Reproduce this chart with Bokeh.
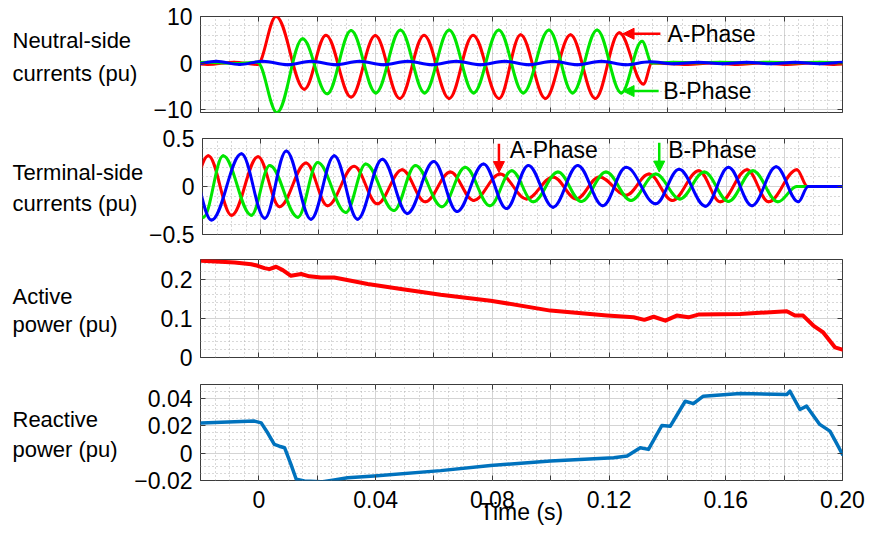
import numpy as np
from bokeh.plotting import figure
from bokeh.layouts import column, row
from bokeh.models import Range1d, FixedTicker, Label, Arrow, NormalHead, LinearAxis
from bokeh.embed import file_html
from bokeh.resources import INLINE

FONT = "Liberation Sans"
FS = "23px"      # tick labels / notes
FT = "22px"      # panel titles
RED = "#ff0000"
GREEN = "#00e600"
BLUE = "#0000ff"
QBLUE = "#0072bd"

# ---------------- data (extrema of the waveforms) ----------------
# Neutral-side currents (pu)
na_t = [-0.027, -0.0175, -0.0085, -0.0005, 0.0059, 0.0156, 0.0230, 0.0316, 0.0399, 0.0483,
        0.0566, 0.0652, 0.0734, 0.0823, 0.0897, 0.0982, 0.1068, 0.1153, 0.1235, 0.1318,
        0.1347, 0.147, 0.155, 0.164, 0.172, 0.181, 0.189, 0.197, 0.205]
na_v = [0.2, -0.3, 0.2, -0.3, 10.0, -5.6, 6.0, -7.3, 5.9, -7.6,
        6.0, -7.6, 6.0, -7.6, 6.1, -7.6, 6.1, -7.6, 6.5, -4.5,
        0.0, -0.3, 0.0, -0.3, 0.0, -0.3, 0.0, -0.3, 0.0]

nb_t = [-0.027, -0.0175, -0.0085, -0.0005, 0.0062, 0.0150, 0.0234, 0.0316, 0.0401, 0.0485,
        0.0568, 0.0652, 0.0736, 0.0822, 0.0906, 0.0994, 0.1075, 0.1159, 0.1242, 0.1313,
        0.1347, 0.142, 0.150, 0.158, 0.167, 0.175, 0.183, 0.192, 0.200, 0.208]
nb_v = [-0.1, 0.2, -0.1, 0.2, -10.6, 5.2, -6.6, 7.0, -6.4, 7.1,
        -6.4, 7.1, -6.4, 7.1, -6.4, 7.1, -6.4, 7.1, -6.4, 4.7,
        0.0, 0.2, 0.05, 0.2, 0.05, 0.2, 0.05, 0.2, 0.05, 0.2]

nc_t = [-0.0229, -0.0146, -0.0066, 0.0014, 0.0099, 0.0179, 0.0264, 0.0344, 0.0427, 0.0510,
        0.0593, 0.0676, 0.0759, 0.0842, 0.0925, 0.1008, 0.1091, 0.1174, 0.1257, 0.1340,
        0.1423, 0.1506, 0.1589, 0.1672, 0.1755, 0.1838, 0.1921, 0.2004, 0.2087]
nc_v = [-0.3, 0.4, -0.3, 0.4, -0.35, 0.4, -0.35, 0.4, -0.35, 0.4,
        -0.35, 0.4, -0.35, 0.4, -0.35, 0.4, -0.35, 0.4, -0.35, 0.3,
        -0.15, 0.2, -0.15, 0.2, -0.15, 0.2, -0.15, 0.2, -0.15]

# Terminal-side currents (pu)
ta_t = [-0.0265, -0.018, -0.0100, -0.0009, 0.0065, 0.0156, 0.0230, 0.0321, 0.0401, 0.0486,
        0.0566, 0.0652, 0.0732, 0.0823, 0.0914, 0.1005, 0.1085, 0.1164, 0.1256, 0.1335,
        0.1415, 0.1506, 0.158, 0.1672, 0.1746, 0.1843, 0.188, 0.205]
ta_v = [-0.30, 0.32, -0.30, 0.31, -0.21, 0.245, -0.20, 0.21, -0.18, 0.175,
        -0.16, 0.15, -0.145, 0.13, -0.13, 0.10, -0.13, 0.10, -0.09, 0.13,
        -0.145, 0.165, -0.16, 0.175, -0.16, 0.175, 0.0, 0.0]

tb_t = [-0.028, -0.0197, -0.0129, -0.0032, 0.0031, 0.0128, 0.0196, 0.0293, 0.0361, 0.0458,
        0.0532, 0.0623, 0.0703, 0.0788, 0.0863, 0.0937, 0.1022, 0.1102, 0.1187, 0.1273,
        0.1358, 0.1441, 0.1525, 0.1608, 0.1692, 0.1778, 0.1843, 0.205]
tb_v = [0.32, -0.32, 0.32, -0.30, 0.22, -0.32, 0.25, -0.27, 0.235, -0.25,
        0.22, -0.21, 0.20, -0.20, 0.165, -0.16, 0.15, -0.155, 0.15, -0.145,
        0.13, -0.13, 0.15, -0.155, 0.165, -0.16, 0.0, 0.0]

tc_t = [-0.0252, -0.0169, -0.0066, 0.0014, 0.0088, 0.0173, 0.0253, 0.0333, 0.0418, 0.0504,
        0.0595, 0.0675, 0.0766, 0.0845, 0.0920, 0.1005, 0.1090, 0.1176, 0.1256, 0.1358,
        0.1438, 0.1529, 0.1608, 0.1689, 0.1772, 0.1848, 0.1882, 0.205]
tc_v = [0.34, -0.35, 0.34, -0.33, 0.37, -0.34, 0.32, -0.34, 0.285, -0.28,
        0.26, -0.26, 0.235, -0.23, 0.22, -0.215, 0.22, -0.20, 0.20, -0.18,
        0.18, -0.205, 0.20, -0.20, 0.205, -0.16, 0.0, 0.0]

# Active power (pu)
p_t = [-0.0197, -0.0083, -0.0026, -0.0004, 0.0019, 0.0036, 0.0059, 0.0082, 0.0110, 0.0145,
       0.0173, 0.0213, 0.0258, 0.0316, 0.0373, 0.0487, 0.0623, 0.0794, 0.0999, 0.1193,
       0.1284, 0.1321, 0.1353, 0.1393, 0.1432, 0.1472, 0.1506, 0.1649, 0.1809, 0.1837,
       0.1865, 0.1900, 0.1934, 0.1974, 0.2000]
p_v = [0.247, 0.2425, 0.238, 0.234, 0.228, 0.2255, 0.2315, 0.223, 0.2085, 0.213,
       0.207, 0.204, 0.204, 0.196, 0.1875, 0.175, 0.160, 0.145, 0.1196, 0.107,
       0.1025, 0.096, 0.104, 0.094, 0.107, 0.1025, 0.1094, 0.111, 0.118, 0.107,
       0.107, 0.0815, 0.064, 0.026, 0.020]

# Reactive power (pu)
q_t = [-0.0197, -0.0015, 0.0008, 0.0030, 0.0053, 0.0070, 0.0088, 0.0110, 0.0128, 0.0156,
       0.0213, 0.0258, 0.0304, 0.0395, 0.0623, 0.0794, 0.0999, 0.1216, 0.1262, 0.1307,
       0.1335, 0.1381, 0.1410, 0.1461, 0.1489, 0.1523, 0.1649, 0.1809, 0.1820, 0.1854,
       0.1877, 0.1922, 0.1957, 0.1979, 0.2000]
q_v = [0.022, 0.0233, 0.022, 0.0148, 0.0063, 0.005, 0.0039, -0.0082, -0.0191, -0.0204,
       -0.021, -0.0196, -0.018, -0.0167, -0.0128, -0.009, -0.0058, -0.0034, -0.0022, 0.0039,
       0.0027, 0.0201, 0.0196, 0.0378, 0.0361, 0.0415, 0.0434, 0.0427, 0.0451, 0.0318,
       0.0342, 0.0209, 0.016, 0.0075, -0.001]

X_TICKS = [-0.02, 0.0, 0.02, 0.04, 0.06, 0.08, 0.1, 0.12, 0.14, 0.16, 0.18, 0.2]
X_LABELS = ["", "0", "", "0.04", "", "0.08", "", "0.12", "", "0.16", "", "0.20"]
X_MINOR = [round(-0.02 + 0.005 * i, 4) for i in range(45)]

AX_COLOR = "#3c3c3c"
TOTAL_W = 876
FRAME_LEFT = 200
RIGHT_BORDER = 34


def style_axis(ax, show_labels, standoff=7):
    ax.axis_line_color = None
    ax.major_tick_in = 5
    ax.major_tick_out = 0
    ax.major_tick_line_color = AX_COLOR
    ax.minor_tick_line_color = None
    ax.major_label_text_font = FONT
    ax.major_label_text_color = "black"
    if show_labels:
        ax.major_label_text_font_size = FS
        ax.major_label_standoff = standoff
    else:
        ax.major_label_text_font_size = "0px"
        ax.major_label_standoff = 0


def make_fig(lw, height, top, bottom, yr, yticks, ylabels, yminor, show_x):
    p = figure(width=TOTAL_W - lw, height=height, x_range=Range1d(-0.02, 0.2),
               y_range=Range1d(yr[0], yr[1]), title=None,
               output_backend="svg", toolbar_location=None,
               min_border_left=FRAME_LEFT - lw, min_border_right=RIGHT_BORDER,
               min_border_top=top, min_border_bottom=bottom)
    p.background_fill_color = "white"
    p.border_fill_color = "white"
    p.outline_line_color = AX_COLOR
    p.outline_line_width = 1
    xt = FixedTicker(ticks=X_TICKS, minor_ticks=X_MINOR)
    yt = FixedTicker(ticks=yticks, minor_ticks=yminor)
    p.xaxis.ticker = xt
    p.yaxis.ticker = yt
    p.xgrid.ticker = xt
    p.ygrid.ticker = yt
    for g in (p.xgrid, p.ygrid):
        g.grid_line_color = "#d4d4d4"
        g.grid_line_width = 1
        g.minor_grid_line_color = "#b0b0b0"
        g.minor_grid_line_dash = "1 3"
        g.minor_grid_line_width = 1
    style_axis(p.yaxis[0], True, 4)
    p.yaxis.major_label_overrides = dict(zip(yticks, ylabels))
    style_axis(p.xaxis[0], show_x, 6)
    if show_x:
        p.xaxis.major_label_overrides = dict(zip(X_TICKS, X_LABELS))
    else:
        p.xaxis.major_label_overrides = {t: "" for t in X_TICKS}
    top_ax = LinearAxis(ticker=FixedTicker(ticks=X_TICKS))
    style_axis(top_ax, False)
    top_ax.major_label_overrides = {t: "" for t in X_TICKS}
    p.add_layout(top_ax, "above")
    right_ax = LinearAxis(ticker=FixedTicker(ticks=yticks))
    style_axis(right_ax, False)
    right_ax.major_label_overrides = {t: "" for t in yticks}
    p.add_layout(right_ax, "right")
    return p


def title_fig(lw, height, top, bottom, yr, ys, lines):
    # a plain panel left of the plot that only carries the two-line panel title;
    # it shares the vertical frame and y range of the plot next to it
    t = figure(width=lw, height=height, x_range=Range1d(0, lw), y_range=Range1d(yr[0], yr[1]),
               title=None, output_backend="svg", toolbar_location=None,
               x_axis_type=None, y_axis_type=None,
               min_border_left=0, min_border_right=0, min_border_top=top, min_border_bottom=bottom)
    t.grid.visible = False
    t.outline_line_color = None
    t.background_fill_color = "white"
    t.border_fill_color = "white"
    for y, s in zip(ys, lines):
        t.add_layout(Label(x=12, y=y, text=s, text_font=FONT, text_font_size=FT,
                           text_align="left", text_baseline="alphabetic", text_color="black"))
    return t


def wave(p, t, v, color):
    t = np.asarray(t, dtype=float)
    v = np.asarray(v, dtype=float)
    dt = np.diff(t)
    k = 0.3642
    p.bezier(x0=t[:-1], y0=v[:-1], x1=t[1:], y1=v[1:],
             cx0=t[:-1] + k * dt, cy0=v[:-1], cx1=t[1:] - k * dt, cy1=v[1:],
             line_color=color, line_width=3, line_cap="round")


def note(p, x, y, s):
    p.add_layout(Label(x=x, y=y, text=s, text_font=FONT, text_font_size=FS,
                       text_align="left", text_baseline="middle", text_color="black"))


def arrow(p, x0, y0, x1, y1, color):
    p.add_layout(Arrow(end=NormalHead(size=11, fill_color=color, line_color=color, line_width=1),
                       x_start=x0, y_start=y0, x_end=x1, y_end=y1,
                       line_color=color, line_width=2.5))


# Panel 1: neutral-side currents
LW1, H1, Y1 = 144, 125, (-10.6, 10.0)
f1 = make_fig(LW1, H1, 16, 13, Y1, [-10, 0, 10], ["\u221210", "0", "10"],
              [round(-10 + 2 * i, 1) for i in range(11)], False)
wave(f1, na_t, na_v, RED)
wave(f1, nb_t, nb_v, GREEN)
wave(f1, nc_t, nc_v, BLUE)
arrow(f1, 0.1376, 6.3, 0.1248, 6.3, RED)
arrow(f1, 0.1370, -6.0, 0.1248, -6.0, GREEN)
note(f1, 0.1400, 6.3, "A-Phase")
note(f1, 0.1386, -6.0, "B-Phase")
t1 = title_fig(LW1, H1, 16, 13, Y1, [4.95, -2.2], ["Neutral-side", "currents (pu)"])

# Panel 2: terminal-side currents
LW2, H2, Y2 = 146, 122, (-0.5, 0.5)
f2 = make_fig(LW2, H2, 13, 13, Y2, [-0.5, 0, 0.5], ["\u22120.5", "0", "0.5"],
              [round(-0.5 + 0.1 * i, 2) for i in range(11)], False)
wave(f2, ta_t, ta_v, RED)
wave(f2, tb_t, tb_v, GREEN)
wave(f2, tc_t, tc_v, BLUE)
arrow(f2, 0.0819, 0.445, 0.0819, 0.145, RED)
arrow(f2, 0.1370, 0.455, 0.1370, 0.150, GREEN)
note(f2, 0.0856, 0.377, "A-Phase")
note(f2, 0.1401, 0.377, "B-Phase")
t2 = title_fig(LW2, H2, 13, 13, Y2, [0.15, -0.172], ["Terminal-side", "currents (pu)"])

# Panel 3: active power
LW3, H3, Y3 = 140, 124, (0.0, 0.25)
f3 = make_fig(LW3, H3, 12, 14, Y3, [0, 0.1, 0.2], ["0", "0.1", "0.2"],
              [round(0.02 * i, 2) for i in range(13)], False)
f3.line(p_t, p_v, line_color=RED, line_width=4, line_join="round", line_cap="round")
t3 = title_fig(LW3, H3, 12, 14, Y3, [0.156, 0.0835], ["Active", "power (pu)"])

# Panel 4: reactive power
LW4, H4, Y4 = 130, 164, (-0.02, 0.05)
f4 = make_fig(LW4, H4, 13, 55, Y4, [-0.02, 0, 0.02, 0.04],
              ["\u22120.02", "0", "0.02", "0.04"],
              [round(-0.02 + 0.005 * i, 3) for i in range(15)], True)
f4.line(q_t, q_v, line_color=QBLUE, line_width=3.5, line_join="round", line_cap="round")
ax4 = f4.below[0]
ax4.axis_label = "Time (s)"
ax4.axis_label_text_font = FONT
ax4.axis_label_text_font_size = FS
ax4.axis_label_text_font_style = "normal"
ax4.axis_label_text_color = "black"
ax4.axis_label_standoff = -12
t4 = title_fig(LW4, H4, 13, 55, Y4, [0.0244, 0.0026], ["Reactive", "power (pu)"])

layout = column(row(t1, f1, spacing=0), row(t2, f2, spacing=0),
                row(t3, f3, spacing=0), row(t4, f4, spacing=0), spacing=0)
open("out.html", "w").write(file_html(layout, INLINE))
